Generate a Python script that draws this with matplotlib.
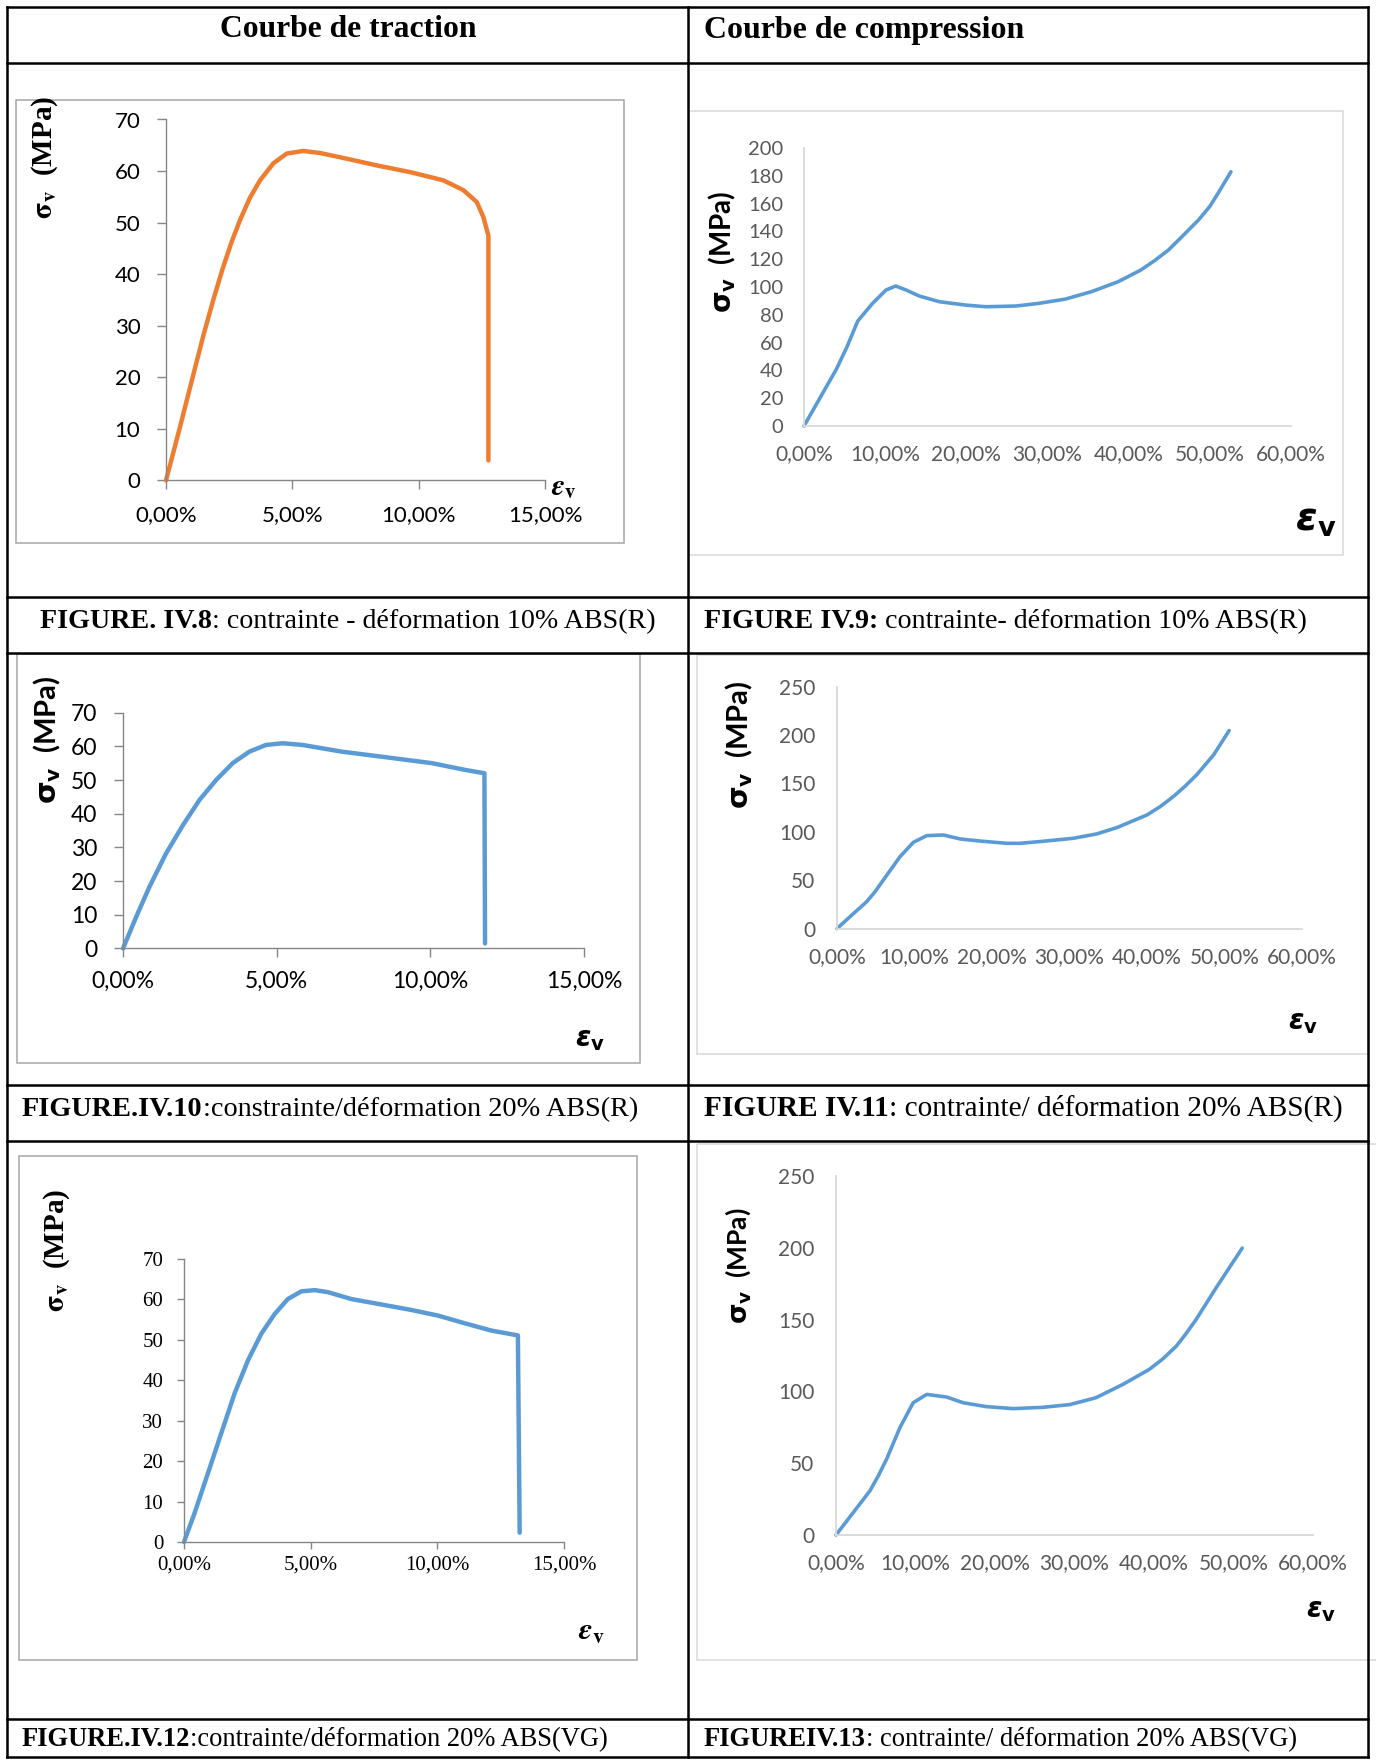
import matplotlib
matplotlib.use("Agg")
import matplotlib.pyplot as plt
from matplotlib.patches import Rectangle
from matplotlib.ticker import MultipleLocator, FuncFormatter

W, H = 1376, 1760

# --- courbes de traction : déformation (%) / contrainte (MPa) ---
eps_trac_10R = [0, 0.55, 1.08, 1.5, 1.9, 2.25, 2.6, 2.93, 3.32, 3.72, 4.25, 4.78, 5.43,
                6.1, 7.15, 8.34, 9.66, 10.98, 11.77, 12.3, 12.56, 12.76, 12.76]
sig_trac_10R = [0, 10.3, 20.5, 28.5, 35.5, 41.2, 46.3, 50.5, 54.8, 58.2, 61.5, 63.4, 63.9,
                63.5, 62.4, 61.1, 59.8, 58.2, 56.3, 54.0, 51.1, 47.5, 3.9]

eps_trac_20R = [0, 0.43, 0.86, 1.40, 1.95, 2.49, 3.03, 3.57, 4.11, 4.65, 5.19, 5.84, 7.13,
                8.43, 10.05, 11.13, 11.76, 11.78]
sig_trac_20R = [0, 9.4, 18.3, 28.2, 36.6, 44.1, 50.0, 55.0, 58.4, 60.4, 60.9, 60.4, 58.4,
                56.9, 55.0, 53.0, 52.0, 1.5]

eps_trac_20VG = [0, 0.42, 0.95, 1.47, 2.0, 2.53, 3.05, 3.58, 4.1, 4.63, 5.16, 5.68, 6.6,
                 7.66, 8.97, 10.03, 11.08, 12.13, 13.18, 13.25]
sig_trac_20VG = [0, 7.2, 17.1, 26.9, 36.8, 45.0, 51.5, 56.4, 60.1, 62.0, 62.3, 61.8, 60.1,
                 58.9, 57.4, 56.0, 54.1, 52.3, 51.1, 2.3]

# --- courbes de compression ---
eps_comp_10R = [0, 2.0, 4.0, 5.3, 6.62, 8.46, 10.1, 11.3, 12.6, 14.2, 16.7, 19.9, 22.4,
                26.1, 28.9, 32.2, 35.4, 38.7, 41.5, 43.2, 44.9, 46.7, 48.6, 50.0, 51.0, 52.6]
sig_comp_10R = [0, 20.5, 41.0, 57.0, 75.5, 88.3, 97.8, 100.7, 97.8, 93.5, 89.4, 87.0, 85.8,
                86.3, 88.2, 91.3, 96.6, 103.8, 112.2, 119.0, 126.6, 137.0, 148.2, 158.0,
                167.3, 182.9]

eps_comp_20R = [0, 1.68, 3.83, 4.9, 5.98, 8.13, 9.85, 11.56, 13.7, 15.9, 18.4, 21.9, 23.6,
                26.6, 30.5, 33.5, 36.1, 40.0, 41.7, 43.4, 44.9, 46.4, 48.6, 50.6]
sig_comp_20R = [0, 12.3, 27.8, 38.0, 50.2, 74.3, 89.1, 96.0, 96.7, 92.6, 90.5, 88.1, 88.1,
                90.2, 93.3, 97.8, 104.3, 117.4, 126.0, 136.4, 147.0, 158.8, 179.5, 204.6]

eps_comp_20VG = [0, 2.18, 4.27, 5.3, 6.36, 8.04, 9.71, 11.4, 13.9, 16.0, 18.9, 22.3, 26.0,
                 29.4, 32.7, 36.1, 39.4, 41.1, 42.8, 44.0, 45.3, 47.8, 51.1]
sig_comp_20VG = [0, 15.7, 30.8, 41.0, 52.8, 74.8, 92.1, 97.9, 96.1, 92.1, 89.4, 88.0, 88.9,
                 90.8, 95.6, 104.9, 115.3, 122.6, 131.5, 140.0, 150.1, 172.0, 199.8]

headers = ["Courbe de traction", "Courbe de compression"]
captions = [
    ("FIGURE. IV.8", ": contrainte - déformation 10% ABS(R)"),
    ("FIGURE IV.9:", " contrainte- déformation 10% ABS(R)"),
    ("FIGURE.IV.10", ":constrainte/déformation 20% ABS(R)"),
    ("FIGURE IV.11", ": contrainte/ déformation 20% ABS(R)"),
    ("FIGURE.IV.12", ":contrainte/déformation 20% ABS(VG)"),
    ("FIGUREIV.13", ": contrainte/ déformation 20% ABS(VG)"),
]
sigma_label = r"$\mathbf{\sigma_v}$  (MPa)"
eps_label = r"$\mathbfit{\varepsilon}_\mathbf{v}$"

ORANGE = "#ED7D31"
BLUE = "#5B9BD5"

fig = plt.figure(figsize=(W / 100, H / 100), dpi=100)
bg = fig.add_axes([0, 0, 1, 1])
bg.set_xlim(0, W)
bg.set_ylim(H, 0)
bg.axis("off")
renderer = fig.canvas.get_renderer()

# tableau
xl, xm, xr = 7, 688, 1368
rows = [7, 63, 597, 653, 1085, 1141, 1719, 1757]
for y in rows:
    bg.plot([xl, xr], [y, y], color="black", lw=1.8, solid_capstyle="projecting")
for x in (xl, xm, xr):
    bg.plot([x, x], [rows[0], rows[-1]], color="black", lw=1.8, solid_capstyle="projecting")


def fit_line(x, yc, parts, width, ha="left", family="Liberation Serif"):
    # écrit une ligne (gras / normal) et ajuste la taille à la largeur voulue
    size = 20
    texts = []
    for s, bold in parts:
        texts.append(bg.text(0, 0, s, fontsize=size, family=family, va="baseline",
                             fontweight="bold" if bold else "normal"))
    total = sum(t.get_window_extent(renderer).width for t in texts)
    size *= width / total
    if ha == "center":
        x -= width / 2
    base = yc + 0.33 * size * 100 / 72
    for t in texts:
        t.set_fontsize(size)
        t.set_position((x, base))
        x += t.get_window_extent(renderer).width


fit_line(348, 27, [(headers[0], True)], 257, ha="center")
fit_line(704, 27, [(headers[1], True)], 320)

cap_pos = [(40, 619, 615), (704, 619, 601), (22, 1107, 614),
           (704, 1106, 638), (22, 1737, 587), (704, 1737, 593)]
for (x, y, w), (b, n) in zip(cap_pos, captions):
    fit_line(x, y, [(b, True), (n, False)], w)


def pct(v, _):
    return f"{v:.2f}%".replace(".", ",")


def chart(box, axpx, eps, sig, color, xmax, xstep, ymax, ystep, traction,
          tick_font, tick_size, xpad, ypad, lab_xy, lab_size, lab_serif,
          eps_xy, eps_size, box_color, tick_len=6.5, lw=3.2, xtick_size=None):
    x0, y0, x1, y1 = box
    bg.add_patch(Rectangle((x0, y0), x1 - x0, y1 - y0, fill=False,
                           ec=box_color, lw=1.1))
    l, t, r, b = axpx
    ax = fig.add_axes([l / W, 1 - b / H, (r - l) / W, (b - t) / H])
    ax.set_facecolor("none")
    ax.plot(eps, sig, color=color, lw=lw, solid_joinstyle="round",
            solid_capstyle="round", clip_on=False)
    ax.set_xlim(0, xmax)
    ax.set_ylim(0, ymax)
    ax.xaxis.set_major_locator(MultipleLocator(xstep))
    ax.yaxis.set_major_locator(MultipleLocator(ystep))
    ax.xaxis.set_major_formatter(FuncFormatter(pct))
    for s in ("top", "right"):
        ax.spines[s].set_visible(False)
    if traction:
        spine_c, lab_c = "#868686", "black"
        ax.tick_params(direction="out", length=tick_len, width=1, color=spine_c)
        for s in ("left", "bottom"):
            ax.spines[s].set_color(spine_c)
            ax.spines[s].set_linewidth(1.0)
    else:
        spine_c, lab_c = "#d9d9d9", "#595959"
        ax.tick_params(length=0)
        for s in ("left", "bottom"):
            ax.spines[s].set_color(spine_c)
            ax.spines[s].set_linewidth(1.3)
    ax.tick_params(axis="x", pad=xpad)
    ax.tick_params(axis="y", pad=ypad)
    for lab in ax.get_yticklabels():
        lab.set_family(tick_font)
        lab.set_fontsize(tick_size)
        lab.set_color(lab_c)
    for lab in ax.get_xticklabels():
        lab.set_family(tick_font)
        lab.set_fontsize(xtick_size or tick_size)
        lab.set_color(lab_c)
    if lab_serif:
        fam, mfam = "Liberation Serif", "stix"
    else:
        fam, mfam = "Lato", "dejavusans"
    bg.text(lab_xy[0], lab_xy[1], sigma_label, rotation=90, ha="center", va="center",
            fontsize=lab_size, family=fam, fontweight="bold", math_fontfamily=mfam)
    bg.text(eps_xy[0], eps_xy[1], eps_label, ha="center", va="center",
            fontsize=eps_size, math_fontfamily=mfam)
    return ax


# FIGURE IV.8 : traction 10% ABS(R)
chart((16, 100, 624, 543), (166, 119.5, 545, 480.5), eps_trac_10R, sig_trac_10R, ORANGE,
      15, 5, 70, 10, True, "Lato", 16, 11, 12, (45, 157), 21, True, (564, 487), 21,
      "#a6a6a6")
# FIGURE IV.9 : compression 10% ABS(R)
chart((689, 111, 1343, 555), (804, 148, 1291, 426), eps_comp_10R, sig_comp_10R, BLUE,
      60, 10, 200, 20, False, "Lato", 14.5, 13, 15, (722, 252), 20, False, (1316, 520), 28,
      "#d9d9d9", lw=2.6, xtick_size=15)
# FIGURE IV.10 : traction 20% ABS(R)
chart((17, 654, 640, 1063), (123, 712.6, 584, 948.5), eps_trac_20R, sig_trac_20R, BLUE,
      15, 5, 70, 10, True, "Lato", 16.5, 9.5, 12, (47, 740), 21, False, (590, 1039), 20,
      "#a6a6a6")
# FIGURE IV.11 : compression 20% ABS(R)
chart((697, 655, 1368, 1054), (837, 686.6, 1302, 928.6), eps_comp_20R, sig_comp_20R, BLUE,
      60, 10, 250, 50, False, "Lato", 15, 13, 15.5, (739, 745), 21, False, (1303, 1022), 20,
      "#d9d9d9", lw=2.6, xtick_size=15)
# FIGURE IV.12 : traction 20% ABS(VG)
chart((19, 1156, 637, 1660), (184, 1259, 564, 1542), eps_trac_20VG, sig_trac_20VG, BLUE,
      15, 5, 70, 10, True, "Liberation Serif", 15, 4.5, 10, (57, 1250), 21, True,
      (591, 1632), 22, "#a6a6a6", tick_len=5)
# FIGURE IV.13 : compression 20% ABS(VG)
chart((697, 1144, 1390, 1660), (836, 1176, 1313, 1535), eps_comp_20VG, sig_comp_20VG, BLUE,
      60, 10, 250, 50, False, "Lato", 15, 13, 15.5, (738, 1266), 19, False, (1321, 1610), 20,
      "#d9d9d9", lw=2.6, xtick_size=15)

fig.savefig("out.png", dpi=100)
